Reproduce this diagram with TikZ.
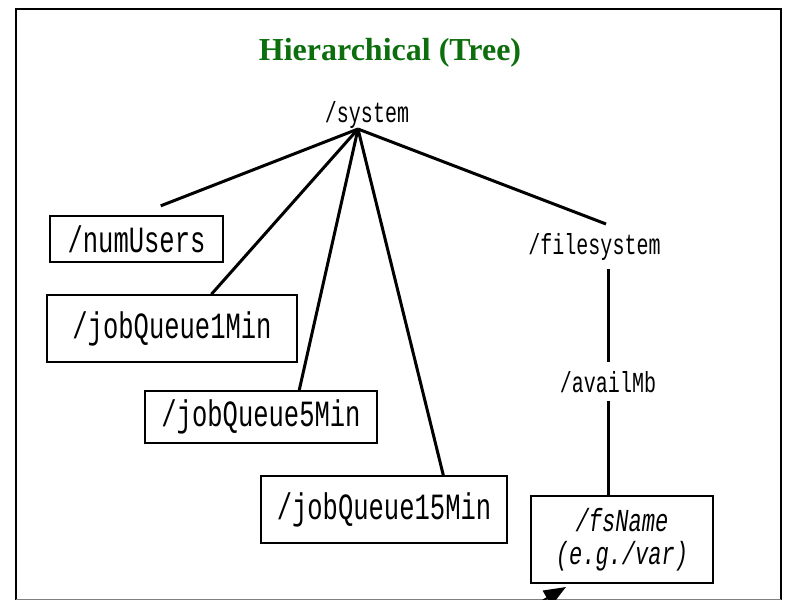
\documentclass[tikz,border=0pt]{standalone}
\usepackage{fontspec}
\setmainfont{Liberation Serif}
\newfontfamily\keyfont[FakeStretch=0.69]{Liberation Mono}
\definecolor{titlegreen}{RGB}{12, 110, 12}
\usetikzlibrary{arrows.meta, calc}

\begin{document}
\begin{tikzpicture}[x=1pt, y=-1pt,
  keybox/.style={draw, line width=1.5pt, inner sep=0pt, align=center, font=\keyfont\fontsize{37}{40}\selectfont},
  keytext/.style={inner sep=2pt, outer sep=7pt, font=\keyfont\fontsize{29}{32}\selectfont},
  branch/.style={line width=3pt}]
  \useasboundingbox (0,0) rectangle (787,600);

  % Frame
  \draw[line width=2.5pt] (16,600) -- (16,9) -- (781,9) -- (781,600);
  \draw[gray, line width=1pt] (16,599) -- (781,599);

  % Title
  \node[font=\bfseries\fontsize{32}{36}\selectfont, text=titlegreen] (title) at (390,53) {Hierarchical (Tree)};

  % Root
  \node[keytext, anchor=base, inner sep=1pt, outer sep=0pt] (system) at (367,122) {/system};
  \coordinate (hub) at ($(system.south)+(-9,0)$);

  % Leaves
  \node[keybox, minimum width=173pt, minimum height=46pt] (numusers) at (136.5,239) {/numUsers};
  \node[keybox, minimum width=250pt, minimum height=67pt] (jobqone) at (172,328.5) {/jobQueue1Min};
  \node[keybox, minimum width=232pt, minimum height=52pt] (jobqfive) at (261,417) {/jobQueue5Min};
  \node[keybox, minimum width=246pt, minimum height=67pt] (jobqfifteen) at (384,509.5) {/jobQueue15Min};

  % Filesystem branch
  \node[keytext, anchor=base] (filesystem) at (594.5,254) {/filesystem};
  \node[keytext, anchor=base] (availmb) at (608,392) {/availMb};
  \node[keybox, minimum width=182pt, minimum height=87pt, font=\keyfont\itshape\fontsize{32}{33}\selectfont] (fsname) at (622,539.5) {/fsName\\(e.g./var)};

  % Connectors
  \draw[branch, shorten >=26pt] (hub) -- (numusers.north);
  \draw[branch] (hub) -- (jobqone.41);
  \draw[branch] (hub) -- (jobqfive.35);
  \draw[branch] (hub) -- (jobqfifteen.30);
  \draw[branch] (hub) -- ($(filesystem.north)+(11.5,0)$);
  \draw[branch] (filesystem.south -| availmb) -- (availmb.north);
  \draw[branch] (availmb.south) -- (availmb.south |- fsname.north);

  % Arrow coming in from below
  \begin{scope}
    \clip (0,0) rectangle (787,599);
    \coordinate (arrowtail) at (520,614);
    \coordinate (arrowtip) at (566,587);
    \draw[line width=2pt, -{Triangle[length=22pt, width=17pt]}] (arrowtail) -- (arrowtip);
  \end{scope}
\end{tikzpicture}
\end{document}
